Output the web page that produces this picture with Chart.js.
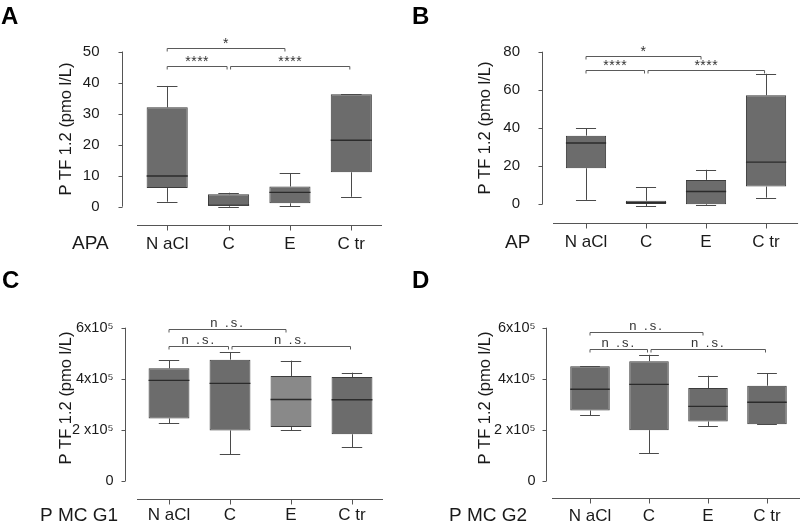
<!DOCTYPE html>
<html>
<head>
<meta charset="utf-8">
<script src="https://cdn.jsdelivr.net/npm/chart.js@4.4.1/dist/chart.umd.min.js"></script>
<style>
html,body{margin:0;padding:0;background:#fff;}
#wrap{position:relative;width:800px;height:522px;overflow:hidden;}
canvas{position:absolute;}
</style>
</head>
<body>
<div id="wrap">
<canvas id="cA" width="400" height="261" style="left:0;top:0;width:400px;height:261px"></canvas>
<canvas id="cB" width="400" height="261" style="left:400px;top:0;width:400px;height:261px"></canvas>
<canvas id="cC" width="400" height="261" style="left:0;top:261px;width:400px;height:261px"></canvas>
<canvas id="cD" width="400" height="261" style="left:400px;top:261px;width:400px;height:261px"></canvas>
</div>
<script>
// ---------------- data ----------------
const categories = ['N aCl', 'C', 'E', 'C tr'];

// Panel A : APA
const apaLow    = [1.6, 0.0, 0.2, 3.2];
const apaQ1     = [6.0, 0.3, 1.1, 11.1];
const apaMedian = [9.9, 0.5, 4.6, 21.4];
const apaQ3     = [32.0, 4.0, 6.5, 36.2];
const apaHigh   = [38.9, 4.5, 10.8, 36.2];
const apaTicks  = [0, 10, 20, 30, 40, 50];
const apaTickLabels = ['0', '10', '20', '30', '40', '50'];
const apaCmpLevel = [51.0, 45.2, 45.2];
const apaCmpLabel = ['*', '****', '****'];

// Panel B : AP
const apLow    = [2.3, -0.9, -0.5, 3.5];
const apQ1     = [18.9, 0.2, 0.0, 9.3];
const apMedian = [32.1, 0.9, 6.7, 22.1];
const apQ3     = [36.0, 1.9, 12.8, 57.2];
const apHigh   = [40.0, 8.9, 18.1, 68.4];
const apTicks  = [0, 20, 40, 60, 80];
const apTickLabels = ['0', '20', '40', '60', '80'];
const apCmpLevel = [77.9, 70.2, 70.2];
const apCmpLabel = ['*', '****', '****'];

// Panel C : PMCG1
const g1Low    = [2.26e5, 1.04e5, 1.99e5, 1.32e5];
const g1Q1     = [2.45e5, 1.98e5, 2.11e5, 1.83e5];
const g1Median = [3.94e5, 3.82e5, 3.19e5, 3.18e5];
const g1Q3     = [4.41e5, 4.75e5, 4.11e5, 4.07e5];
const g1High   = [4.73e5, 5.05e5, 4.71e5, 4.24e5];
const g1CmpLevel = [5.94e5, 5.28e5, 5.28e5];

// Panel D : PMCG2
const g2Low    = [2.57e5, 1.08e5, 2.14e5, 2.22e5];
const g2Q1     = [2.76e5, 1.99e5, 2.33e5, 2.22e5];
const g2Median = [3.59e5, 3.78e5, 2.92e5, 3.08e5];
const g2Q3     = [4.49e5, 4.69e5, 3.64e5, 3.73e5];
const g2High   = [4.50e5, 4.94e5, 4.12e5, 4.22e5];
const g2CmpLevel = [5.84e5, 5.15e5, 5.15e5];

const pmcTicks = [0, 2e5, 4e5, 6e5];
const pmcTickLabels = ['0', '2 x10\u2075', '4x10\u2075', '6x10\u2075'];
const nsLabel = ['n .s.', 'n .s.', 'n .s.'];

// comparisons (category index from -> to), shared by all panels
const cmpFrom = [0, 0, 1];
const cmpTo   = [2, 1, 3];

const yTitle = 'P TF 1.2 (pmo l/L)';

// ---------------- drawing ----------------
const FONT = "'Liberation Sans', Arial, Helvetica, sans-serif";
const TXT = '#1a1a1a';
const BOXFILL = '#6c6c6c';

function line(c, x1, y1, x2, y2) {
  c.beginPath(); c.moveTo(x1, y1); c.lineTo(x2, y2); c.stroke();
}
function px(v) { return Math.round(v) + 0.5; }

function extrasPlugin(P) {
  return {
    id: 'extras',
    afterDatasetsDraw(chart) {
      const c = chart.ctx, xs = chart.scales.x, ys = chart.scales.y, a = chart.chartArea;
      const meta = chart.getDatasetMeta(0);
      c.save();
      c.lineCap = 'butt';
      // whiskers and medians
      meta.data.forEach((bar, i) => {
        const x = bar.x, w = bar.width;
        const yLo = ys.getPixelForValue(P.low[i]);
        const yQ1 = ys.getPixelForValue(P.q1[i]);
        const yMe = ys.getPixelForValue(P.med[i]);
        const yQ3 = ys.getPixelForValue(P.q3[i]);
        const yHi = ys.getPixelForValue(P.high[i]);
        c.strokeStyle = '#4a4a4a'; c.lineWidth = 1;
        if (Math.abs(yHi - yQ3) > 0.5) line(c, px(x), yQ3, px(x), yHi);
        line(c, x - w / 4, px(yHi), x + w / 4, px(yHi));
        if (Math.abs(yLo - yQ1) > 0.5) line(c, px(x), yQ1, px(x), yLo);
        line(c, x - w / 4, px(yLo), x + w / 4, px(yLo));
        c.strokeStyle = '#2b2b2b'; c.lineWidth = 1.4;
        line(c, x - w / 2, yMe, x + w / 2, yMe);
      });
      // y axis line + ticks
      c.strokeStyle = '#555'; c.lineWidth = 1;
      const ax = px(a.left - P.yAxisGap);
      line(c, ax, ys.getPixelForValue(P.ticks[P.ticks.length - 1]), ax, ys.getPixelForValue(P.ticks[0]));
      P.ticks.forEach(v => { const y = px(ys.getPixelForValue(v)); line(c, ax - 4, y, ax, y); });
      // x axis line + ticks
      const ly = px(a.bottom + P.xAxisGap);
      line(c, a.left + P.xLineL, ly, a.right + P.xLineR, ly);
      categories.forEach((_, i) => { const x = px(xs.getPixelForValue(i)); line(c, x, ly, x, ly + 5); });
      // significance brackets
      c.strokeStyle = '#5a5a5a'; c.fillStyle = '#333';
      c.textAlign = 'center'; c.textBaseline = 'alphabetic';
      cmpFrom.forEach((f, k) => {
        const t = cmpTo[k];
        const x1 = xs.getPixelForValue(f) + (f === 1 ? 2 : 0);
        const x2 = xs.getPixelForValue(t) - (t === 2 ? 5 : 1.5);
        const y = px(ys.getPixelForValue(P.cmpLevel[k]));
        c.beginPath();
        c.moveTo(x1, y + 3); c.lineTo(x1, y); c.lineTo(x2, y); c.lineTo(x2, y + 3);
        c.stroke();
        const lab = P.cmpLabel[k];
        const star = lab.indexOf('*') >= 0;
        c.font = (star ? '14px ' : '13px ') + FONT;
        c.letterSpacing = star ? '0.5px' : '2px';
        c.fillText(lab, (x1 + x2) / 2, y - (star ? 1 : 2.5));
      });
      c.letterSpacing = '0px';
      // y title
      c.fillStyle = TXT;
      c.font = '16.5px ' + FONT;
      c.save();
      c.translate(P.titleX, P.titleY);
      c.rotate(-Math.PI / 2);
      c.textAlign = 'center'; c.textBaseline = 'middle';
      c.fillText(yTitle, 0, 0);
      c.restore();
      // x title (group name)
      c.font = '19px ' + FONT;
      c.textAlign = 'left'; c.textBaseline = 'alphabetic';
      c.fillText(P.xTitle, P.xTitleX, P.xTitleY);
      // panel letter
      c.font = 'bold 24px ' + FONT;
      c.fillStyle = '#000';
      c.fillText(P.letter, P.letterX, P.letterY);
      c.restore();
    }
  };
}

function makePanel(id, P) {
  return new Chart(document.getElementById(id), {
    type: 'bar',
    data: {
      labels: categories,
      datasets: [{
        data: P.q1.map((v, i) => [v, P.q3[i]]),
        backgroundColor: P.fill,
        borderColor: '#3c3c3c',
        borderWidth: 1,
        borderSkipped: false,
        barPercentage: 0.67,
        categoryPercentage: 1,
        clip: false
      }]
    },
    options: {
      responsive: false,
      animation: false,
      devicePixelRatio: 1,
      layout: { padding: P.pad },
      plugins: { legend: { display: false }, tooltip: { enabled: false }, title: { display: false } },
      scales: {
        x: {
          grid: { display: false }, border: { display: false },
          ticks: { color: TXT, font: { family: FONT, size: 17 }, padding: P.xPad, maxRotation: 0, autoSkip: false },
          afterFit: s => { s.height = P.xH; }
        },
        y: {
          min: P.min, max: P.max,
          grid: { display: false }, border: { display: false },
          ticks: {
            color: TXT, font: { family: FONT, size: P.yFont }, padding: P.yPad,
            callback: (v, i) => P.tickLabels[i]
          },
          afterBuildTicks: s => { s.ticks = P.ticks.map(v => ({ value: v })); },
          afterFit: s => { s.width = P.yW; }
        }
      }
    },
    plugins: [extrasPlugin(P)]
  });
}

makePanel('cA', {
  low: apaLow, q1: apaQ1, med: apaMedian, q3: apaQ3, high: apaHigh,
  ticks: apaTicks, tickLabels: apaTickLabels, cmpLevel: apaCmpLevel, cmpLabel: apaCmpLabel,
  min: 0, max: 50, fill: BOXFILL, yFont: 15,
  pad: { left: 0, right: 18, top: 51.5, bottom: 0 }, yW: 136.5, xH: 54.3,
  yPad: 29, xPad: 19, yAxisGap: 14.5, xAxisGap: 18.3, xLineL: 0.5, xLineR: 0,
  titleX: 66, titleY: 129, xTitle: 'APA', xTitleX: 72, xTitleY: 249,
  letter: 'A', letterX: 1, letterY: 24
});
makePanel('cB', {
  low: apLow, q1: apQ1, med: apMedian, q3: apQ3, high: apHigh,
  ticks: apTicks, tickLabels: apTickLabels, cmpLevel: apCmpLevel, cmpLabel: apCmpLabel,
  min: 0, max: 80, fill: BOXFILL, yFont: 15,
  pad: { left: 0, right: 2, top: 51.7, bottom: 0 }, yW: 156, xH: 56.7,
  yPad: 28, xPad: 20, yAxisGap: 14, xAxisGap: 18.7, xLineL: -3, xLineR: 2,
  titleX: 85, titleY: 128, xTitle: 'AP', xTitleX: 105, xTitleY: 248,
  letter: 'B', letterX: 12, letterY: 24
});
makePanel('cC', {
  low: g1Low, q1: g1Q1, med: g1Median, q3: g1Q3, high: g1High,
  ticks: pmcTicks, tickLabels: pmcTickLabels, cmpLevel: g1CmpLevel, cmpLabel: nsLabel,
  min: 0, max: 6e5, fill: [BOXFILL, BOXFILL, '#898989', BOXFILL], yFont: 14.5,
  pad: { left: 0, right: 17.5, top: 66.7, bottom: 0 }, yW: 138.5, xH: 41,
  yPad: 17, xPad: 16, yAxisGap: 13.5, xAxisGap: 18, xLineL: -1.5, xLineR: 0.5,
  titleX: 66, titleY: 137, xTitle: 'P MC G1', xTitleX: 40, xTitleY: 260,
  letter: 'C', letterX: 2, letterY: 27
});
makePanel('cD', {
  low: g2Low, q1: g2Q1, med: g2Median, q3: g2Q3, high: g2High,
  ticks: pmcTicks, tickLabels: pmcTickLabels, cmpLevel: g2CmpLevel, cmpLabel: nsLabel,
  min: 0, max: 6e5, fill: BOXFILL, yFont: 14.5,
  pad: { left: 0, right: 3.5, top: 66.7, bottom: 0 }, yW: 160.5, xH: 41,
  yPad: 17, xPad: 17, yAxisGap: 15, xAxisGap: 16.7, xLineL: -8.5, xLineR: 3.5,
  titleX: 85, titleY: 137, xTitle: 'P MC G2', xTitleX: 49, xTitleY: 260,
  letter: 'D', letterX: 12, letterY: 27
});
</script>
</body>
</html>
